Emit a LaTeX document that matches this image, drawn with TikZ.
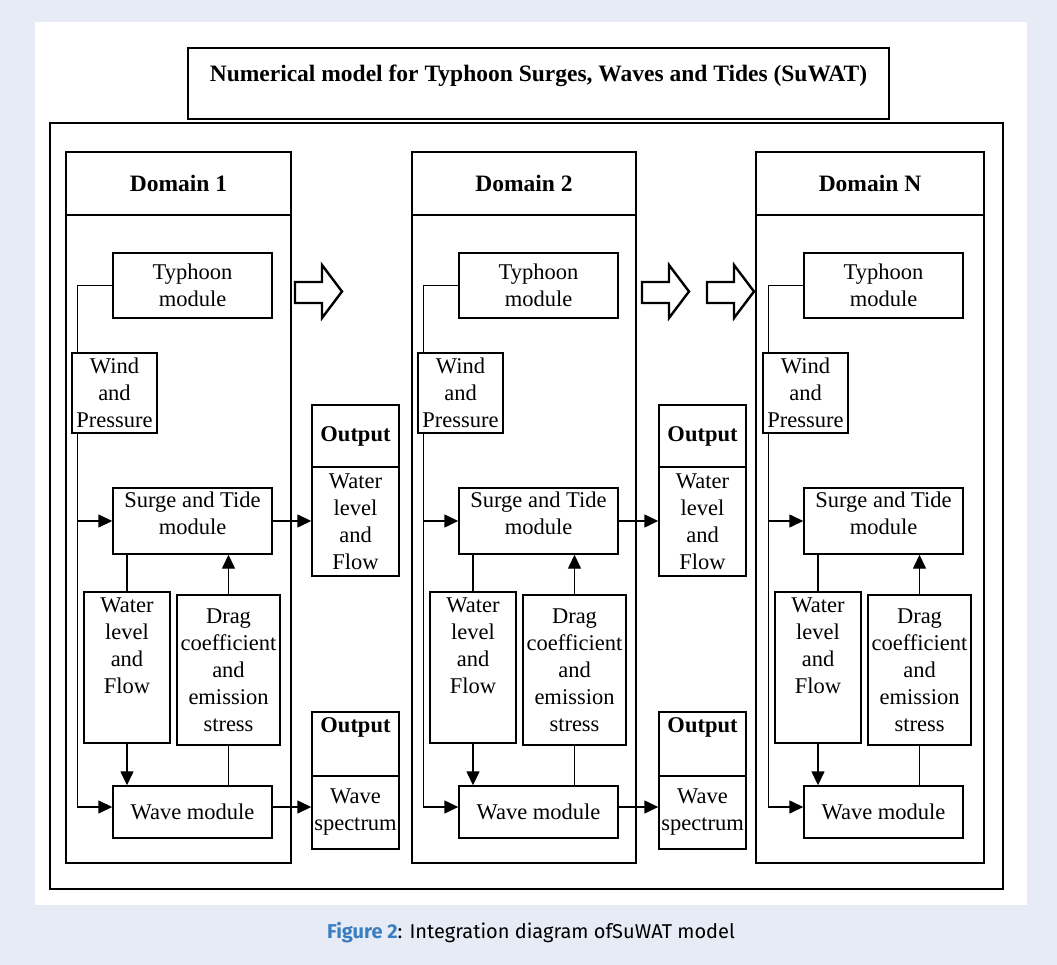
\documentclass[tikz,border=0pt]{standalone}
\usepackage{fontspec}
\setmainfont{Liberation Serif}
\newfontfamily\capfont{Fira Sans}
\usetikzlibrary{positioning,arrows.meta}
\definecolor{pagebg}{HTML}{E7EBF5}
\definecolor{figblue}{HTML}{3A7DC0}

\begin{document}
\begin{tikzpicture}[
  x=1pt, y=-1pt,
  font=\fontsize{22.5}{27}\selectfont,
  modblock/.style={
    rectangle,
    draw,
    line width=1.4pt,
    fill=white,
    inner sep=0pt,
    align=center
  },
  domainblock/.style={
    rectangle,
    draw,
    line width=2.8pt,
    inner sep=0pt
  },
  toplabel/.style={
    anchor=north,
    align=center,
    inner sep=6pt
  },
  flow/.style={
    line width=1.4pt,
    -{Triangle[length=14pt,width=13pt]}
  },
  link/.style={line width=1.4pt},
  blockarrow/.style={draw, line width=2.4pt, line join=miter, fill=white}]

  % page and panel
  \fill[pagebg] (0,0) rectangle (1057,965);
  \fill[white] (35,22) rectangle (1027,905);
  \useasboundingbox (0,0) rectangle (1057,965);

  \node[domainblock, minimum width=701pt, minimum height=71pt,
    label={[toplabel, inner sep=18pt, font=\fontsize{23.5}{27}\selectfont\bfseries]north:Numerical model for Typhoon Surges, Waves and Tides (SuWAT)}]
    (title) at (538.5,83.5) {};
  \node[draw, line width=1.4pt, minimum width=953pt, minimum height=766pt, inner sep=0pt]
    (frame) at (526.5,506) {};

  % domains
  \foreach \bx/\w/\dx/\i in {66/225/0/1, 412/224/346/2, 756/228/691/N} {
    \node[domainblock, minimum width=\w pt, minimum height=711pt]
      (dom-\i) at (\bx+\w/2,507.5) {};
    \node[domainblock, minimum width=\w pt, minimum height=63pt,
      font=\fontsize{23.5}{27}\selectfont\bfseries]
      (domhd-\i) at (\bx+\w/2,183.5) {Domain \i};
    \node[modblock, minimum width=159pt, minimum height=65pt]
      (typhoon-\i) at (192.5+\dx,285.5) {Typhoon\\module};
    \node[modblock, minimum width=85pt, minimum height=80pt]
      (wind-\i) at (114.5+\dx,393) {Wind\\and\\Pressure};
    \node[modblock, minimum width=159pt, minimum height=66pt,
      label={[toplabel, inner sep=4pt]north:Surge and Tide\\module}]
      (surge-\i) at (192.5+\dx,521) {};
    \node[modblock, minimum width=86pt, minimum height=151pt,
      label={[toplabel]north:Water\\level\\and\\Flow}]
      (water-\i) at (127+\dx,667.5) {};
    \node[modblock, minimum width=103pt, minimum height=150pt]
      (drag-\i) at (228.5+\dx,670) {Drag\\coefficient\\and\\emission\\stress};
    \node[modblock, minimum width=159pt, minimum height=52pt]
      (wave-\i) at (192.5+\dx,812) {Wave module};
    \coordinate (rail-\i) at ([xshift=6pt]wind-\i.south west);

    % connectors
    \draw[link] (typhoon-\i.west) -| ([xshift=6pt]wind-\i.north west);
    \draw[flow] (rail-\i) |- ([yshift=5pt]wave-\i.west);
    \draw[flow] (rail-\i |- surge-\i.west) -- (surge-\i.west);
    \draw[link] (water-\i.north |- surge-\i.south) -- (water-\i.north);
    \draw[flow] (water-\i.south) -- (water-\i.south |- wave-\i.north);
    \draw[flow] (drag-\i.north) -- (drag-\i.north |- surge-\i.south);
    \draw[link] (drag-\i.south |- wave-\i.north) -- (drag-\i.south);
  }

  % outputs
  \foreach \dx/\i in {0/1, 347/2} {
    \node[modblock, minimum width=87pt, minimum height=62pt, font=\fontsize{22.5}{27}\selectfont\bfseries]
      (outhd-\i) at (355.5+\dx,436) {Output};
    \node[modblock, minimum width=87pt, minimum height=109pt]
      (outbd-\i) at (355.5+\dx,521.5) {Water\\level\\and\\Flow};
    \node[modblock, minimum width=87pt, minimum height=64pt,
      label={[toplabel, font=\fontsize{22.5}{27}\selectfont\bfseries]north:Output}]
      (wavehd-\i) at (355.5+\dx,744) {};
    \node[modblock, minimum width=87pt, minimum height=73pt]
      (wavebd-\i) at (355.5+\dx,812.5) {Wave\\spectrum};
    \draw[flow] (surge-\i.east) -- (surge-\i.east -| outbd-\i.west);
    \draw[flow] ([yshift=5pt]wave-\i.east) -- ([yshift=5pt]wave-\i.east -| wavebd-\i.west);
  }

  % domain to domain
  \foreach \ax in {295,642,707}
    \draw[blockarrow] (\ax,282) -- (\ax+27,282) -- (\ax+27,265) -- (\ax+47,291.5)
      -- (\ax+27,318) -- (\ax+27,303) -- (\ax,303) -- cycle;

  \node[font=\capfont\fontsize{20}{24}\selectfont] (caption) at (531,933)
    {\textcolor{figblue}{\bfseries Figure 2}: Integration diagram ofSuWAT model};
\end{tikzpicture}
\end{document}
